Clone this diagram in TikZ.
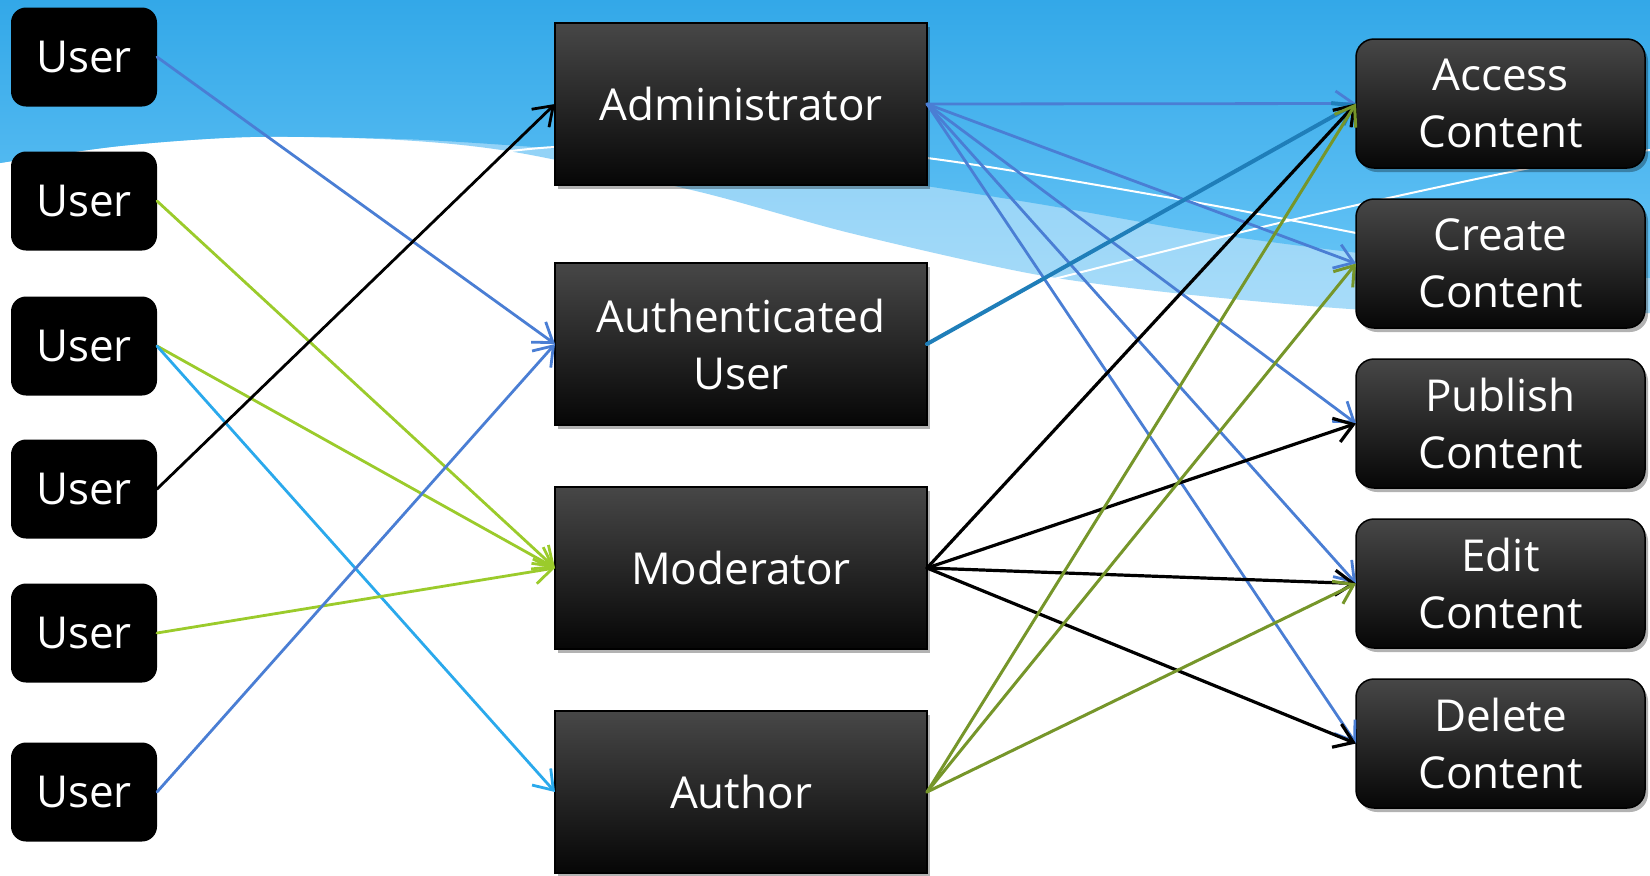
\documentclass[tikz,border=0pt]{standalone}
\usepackage{fontspec}
\setmainfont{Open Sans}
\usetikzlibrary{arrows.meta,shadows}

\definecolor{skytop}{HTML}{33A8E8}
\definecolor{skybot}{HTML}{66C4F6}
\definecolor{bandtop}{HTML}{7FCAF5}
\definecolor{bandbot}{HTML}{A8DCF9}
\definecolor{boxtop}{HTML}{474747}
\definecolor{boxbot}{HTML}{060606}
\definecolor{linkblue}{HTML}{4A7ED4}
\definecolor{linksky}{HTML}{2AA9EC}
\definecolor{linkteal}{HTML}{1F7EB9}
\definecolor{linklime}{HTML}{9BCB2B}
\definecolor{linkolive}{HTML}{76962A}

\tikzset{
  lbl/.style={text=white, font=\fontsize{22pt}{28.5pt}\selectfont, align=center,
    inner sep=0pt, outer sep=0pt},
  userbox/.style={lbl, fill=black, rounded corners=7.5pt,
    minimum width=73pt, minimum height=49.5pt},
  boxshadow/.style={drop shadow={shadow xshift=1.5pt, shadow yshift=-2pt,
    fill=black, opacity=0.3}},
  rolebox/.style={lbl, boxshadow, draw=black, line width=0.75pt,
    top color=boxtop, bottom color=boxbot,
    minimum width=186pt, minimum height=81pt},
  permbox/.style={lbl, boxshadow, draw=black, line width=0.75pt,
    top color=boxtop, bottom color=boxbot, rounded corners=9pt,
    minimum width=144.5pt, minimum height=64.5pt},
  link/.style={-{Straight Barb[length=9pt,width=12.5pt]}, line width=1.4pt,
    line cap=round, line join=round},
  thick link/.style={link, line width=1.6pt},
  swoosh/.style={white, line width=1pt},
}

\begin{document}
\begin{tikzpicture}[x=0.5pt, y=-0.5pt]
  \useasboundingbox (0,0) rectangle (1650,875);

  % sky background with a white sweep
  \fill[white] (0,0) rectangle (1650,875);
  \shade[top color=bandtop, bottom color=bandbot]
    (0,0) -- plot[smooth] coordinates {(0,163) (120,146) (250,137) (400,140)
      (520,153) (700,192) (850,233) (1033,274) (1183,294) (1350,309) (1500,315) (1650,313)}
    -- (1650,0) -- cycle;
  \shade[top color=skytop, bottom color=skybot]
    (0,0) -- plot[smooth] coordinates {(0,163) (120,146) (250,137) (400,139)
      (520,146) (700,160) (850,175) (1033,203) (1200,232) (1350,252) (1500,268) (1650,278)}
    -- (1650,0) -- cycle;
  \draw[swoosh] plot[smooth] coordinates {(445,160) (555,147) (740,145) (927,158)
    (1183,200) (1356,233)};
  \draw[swoosh] plot[smooth] coordinates {(1050,280) (1300,218) (1530,168) (1650,150)};

  % users
  \node[userbox] (u1) at (84,57)  {User};
  \node[userbox] (u2) at (84,201) {User};
  \node[userbox] (u3) at (84,346) {User};
  \node[userbox] (u4) at (84,489) {User};
  \node[userbox] (u5) at (84,633) {User};
  \node[userbox] (u6) at (84,792) {User};

  % roles
  \node[rolebox] (admin)  at (741,104) {Administrator};
  \node[rolebox] (auth)   at (741,344) {Authenticated\\User};
  \node[rolebox] (mod)    at (741,568) {Moderator};
  \node[rolebox] (author) at (741,792) {Author};

  % permissions
  \node[permbox] (access)  at (1500.5,103.5) {Access\\Content};
  \node[permbox] (create)  at (1500.5,263.5) {Create\\Content};
  \node[permbox] (publish) at (1500.5,423.5) {Publish\\Content};
  \node[permbox] (edit)    at (1500.5,583.5) {Edit\\Content};
  \node[permbox] (delete)  at (1500.5,743.5) {Delete\\Content};

  % users to roles
  \draw[link, linkblue]  (u1.east) -- (auth.west);
  \draw[link, linklime]  (u2.east) -- (mod.west);
  \draw[link, linklime]  (u3.east) -- (mod.west);
  \draw[link, linksky]   (u3.east) -- (author.west);
  \draw[link, black]     (u4.east) -- (admin.west);
  \draw[link, linklime]  (u5.east) -- (mod.west);
  \draw[link, linkblue]  (u6.east) -- (auth.west);

  % roles to permissions
  \foreach \p in {access,create,publish,edit,delete}
    \draw[link, linkblue] (admin.east) -- (\p.west);
  \draw[link, linkteal, line width=2pt] (auth.east) -- (access.west);
  \foreach \p in {access,publish,edit,delete}
    \draw[thick link, black] (mod.east) -- (\p.west);
  \foreach \p in {access,create,edit}
    \draw[link, linkolive, line width=1.5pt] (author.east) -- (\p.west);
\end{tikzpicture}
\end{document}
